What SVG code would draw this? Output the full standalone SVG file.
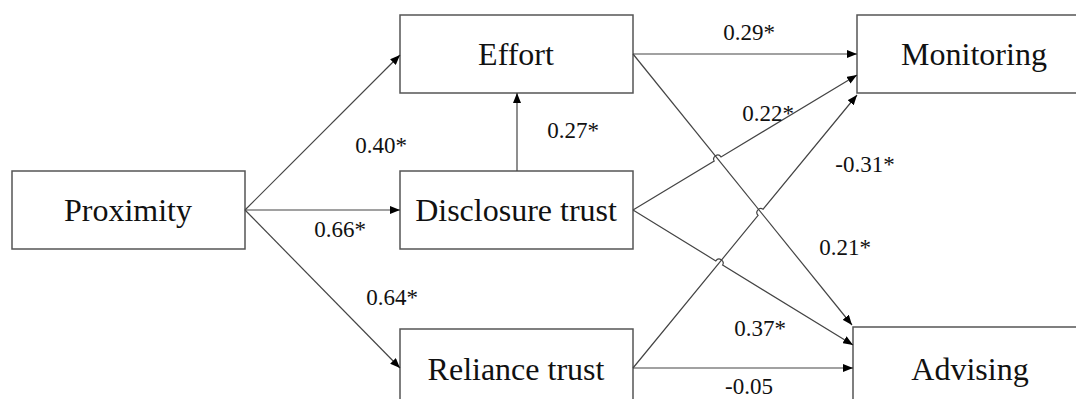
<svg xmlns="http://www.w3.org/2000/svg" width="1076" height="399" viewBox="0 0 1076 399">
<style>
.box{fill:#fff;stroke:#555;stroke-width:1.5}
.nt{font-family:"Liberation Serif","Times New Roman",serif;font-size:32px;fill:#111;text-anchor:middle}
.lb{font-family:"Liberation Serif","Times New Roman",serif;font-size:23px;fill:#111;text-anchor:middle}
.ln{fill:none;stroke:#444;stroke-width:1.2;marker-end:url(#ah)}
</style>
<defs>
<marker id="ah" markerUnits="userSpaceOnUse" markerWidth="10" markerHeight="8" refX="10" refY="4" orient="auto">
<path d="M0,0 L10,4 L0,8 z" fill="#000"/>
</marker>
</defs>
<rect width="1076" height="399" fill="#fff"/>
<g id="node-proximity"><rect class="box" x="12" y="171" width="233" height="78"/><text class="nt" x="128" y="221">Proximity</text></g>
<g id="node-effort"><rect class="box" x="400" y="15" width="233" height="78"/><text class="nt" x="516" y="65">Effort</text></g>
<g id="node-disclosure"><rect class="box" x="400" y="171" width="233" height="78"/><text class="nt" x="516" y="221">Disclosure trust</text></g>
<g id="node-reliance"><rect class="box" x="400" y="329" width="233" height="80"/><text class="nt" x="516" y="380">Reliance trust</text></g>
<g id="node-monitoring"><rect class="box" x="857" y="15" width="233" height="78"/><text class="nt" x="974" y="65">Monitoring</text></g>
<g id="node-advising"><rect class="box" x="853" y="327" width="233" height="82"/><text class="nt" x="970" y="380">Advising</text></g>
<g id="connectors">
<path class="ln" d="M245,210 L400,55"/>
<path class="ln" d="M245,210 L400,210"/>
<path class="ln" d="M245,210 L400,368"/>
<path class="ln" d="M517,171 L517,93"/>
<path class="ln" d="M633,54 L857,54"/>
<path class="ln" d="M633,54 L852,325"/>
<path class="ln" d="M633,210 L714.2,161.1 A4,4 0 0 1 721,156.9 L857,75"/>
<path class="ln" d="M633,210 L715.8,260.9 A4,4 0 0 1 722.6,265.1 L853,345"/>
<path class="ln" d="M633,368 L758.1,215.4 A4,4 0 0 1 763.1,209.2 L857,95"/>
<path class="ln" d="M633,368 L853,368"/>
</g>
<g id="labels">
<text class="lb" x="381" y="153">0.40*</text>
<text class="lb" x="573" y="138">0.27*</text>
<text class="lb" x="749" y="40">0.29*</text>
<text class="lb" x="768" y="121">0.22*</text>
<text class="lb" x="865" y="172">-0.31*</text>
<text class="lb" x="340" y="237">0.66*</text>
<text class="lb" x="392" y="305">0.64*</text>
<text class="lb" x="845" y="255">0.21*</text>
<text class="lb" x="760" y="336">0.37*</text>
<text class="lb" x="749" y="394">-0.05</text>
</g>
</svg>
